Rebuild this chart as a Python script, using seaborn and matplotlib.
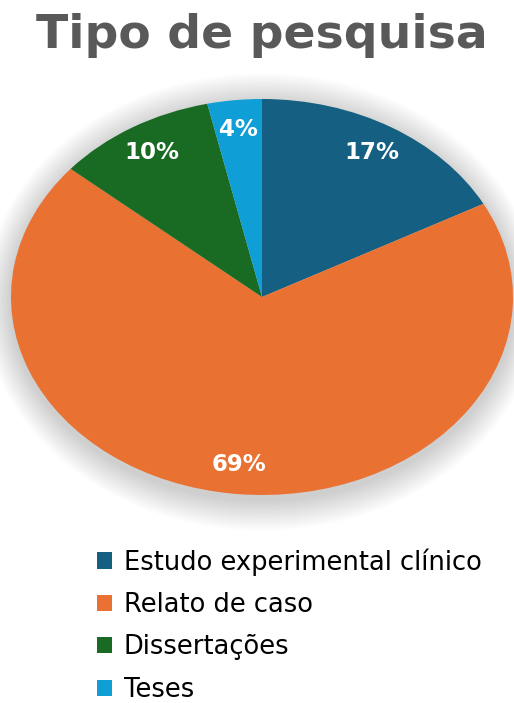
import matplotlib
matplotlib.use("Agg")
import matplotlib.pyplot as plt
import seaborn as sns
from matplotlib.patches import Ellipse, Patch

categories = ["Estudo experimental clínico", "Relato de caso", "Dissertações", "Teses"]
values = [17.2, 69.0, 10.3, 3.5]
colors = ["#156082", "#E97132", "#196B24", "#0F9ED5"]
title = "Tipo de pesquisa"

sns.set_theme(style="white")
plt.rcParams['font.family'] = ['DejaVu Sans']

W, H = 514, 703
fig = plt.figure(figsize=(W / 100, H / 100), dpi=100)
fig.patch.set_facecolor("white")

# pie axes: stretched (elliptical pie)
left, right, top, bottom = 11, 513, 99, 495
ax = fig.add_axes([left / W, 1 - bottom / H, (right - left) / W, (bottom - top) / H])
ax.axis("off")

# soft shadow
n = 24
for i in range(n):
    ax.add_patch(Ellipse((0, -0.025), 2 * (1.0 + 0.0045 * (i + 1)), 2 * (1.0 + 0.0065 * (i + 1)),
                         facecolor="black", alpha=0.006, edgecolor="none", zorder=0, clip_on=False))


def pct_label(p):
    return f"{int(p + 0.5 + 1e-9)}%"


wedges, texts, autotexts = ax.pie(
    values, colors=colors, startangle=90, counterclock=False,
    autopct=pct_label, pctdistance=0.85, radius=1,
    wedgeprops=dict(linewidth=0, edgecolor="none"),
    textprops=dict(color="white", fontsize=16.5, fontweight="bold"))
for w in wedges:
    w.set_zorder(2)
for t in autotexts:
    t.set_zorder(3)
ax.set_xlim(-1, 1)
ax.set_ylim(-1, 1)
ax.set_aspect("auto")

fig.text(262 / W, 1 - 48 / H, title, ha="center", va="baseline", fontsize=34,
         fontweight="bold", color="#595959")

handles = [Patch(facecolor=c, edgecolor="none") for c in colors]
leg = fig.legend(handles, categories, loc="upper left",
                 bbox_to_anchor=(97 / W, 1 - 548 / H), frameon=False,
                 fontsize=18.5, handlelength=0.6, handleheight=0.6,
                 handletextpad=0.45, labelspacing=0.64, borderaxespad=0,
                 borderpad=0)
for t in leg.get_texts():
    t.set_color("#000000")

fig.savefig("out.png", dpi=100, facecolor="white")
